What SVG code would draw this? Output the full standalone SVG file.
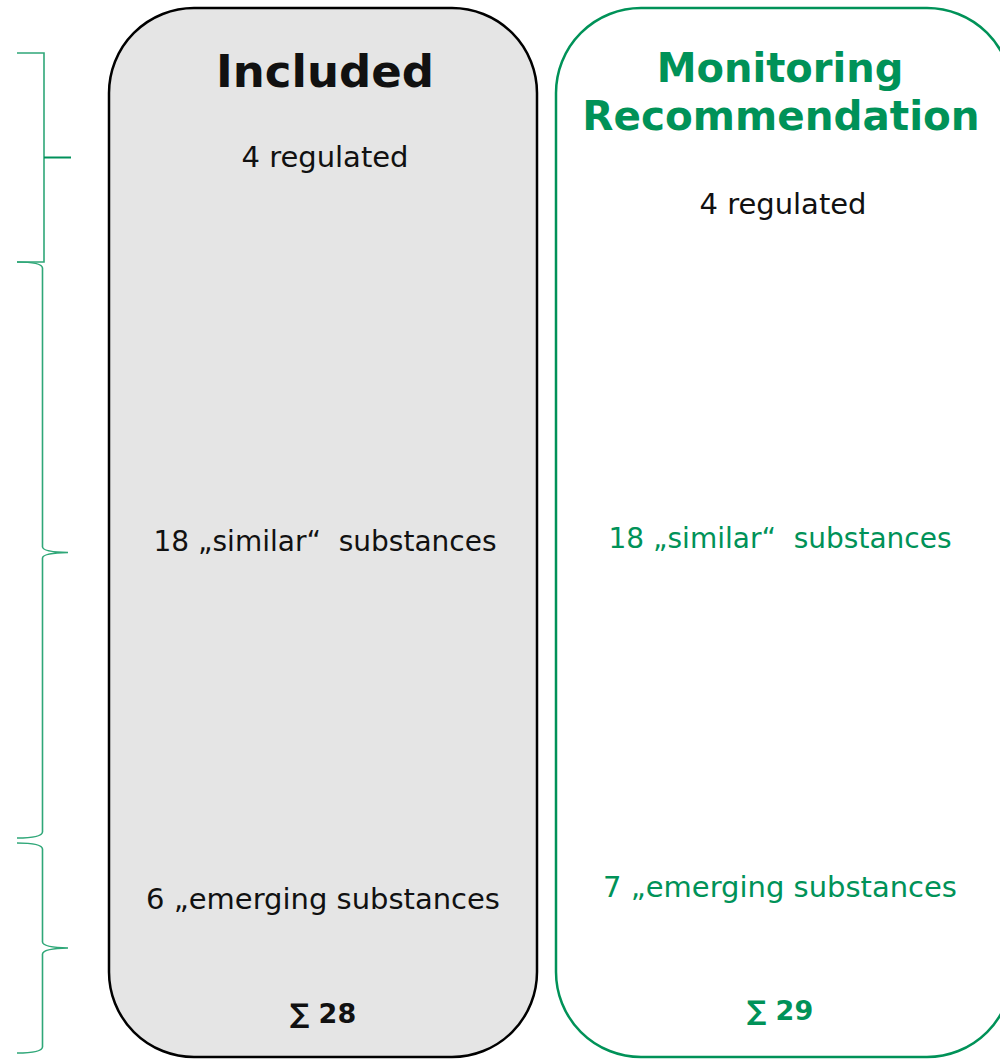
<svg xmlns="http://www.w3.org/2000/svg" width="1000" height="1059" viewBox="0 0 1000 1059">
<style>
.t{font-family:"DejaVu Sans","Noto Sans",sans-serif;text-anchor:middle;white-space:pre}
.b{font-weight:bold}
.k{fill:#111}
.g{fill:#009258}
.s{font-size:29px}
.m{font-size:28px}
.br{fill:none;stroke:#2fa778;stroke-width:1.6}
.tip{fill:none;stroke:#00905a;stroke-width:2}
</style>
<rect width="1000" height="1059" fill="#fff"/>
<g id="braces">
<path class="br" d="M17 53 H44 V262 H17"/>
<path class="tip" d="M44 157.5 H71"/>
<path class="br" d="M17 262 Q42 262 42.5 268 V547 Q43 552 68 552.5 Q43 553 42.5 558 V832 Q42 838 17 838"/>
<path class="br" d="M17 843 Q42 843 42.5 849 V942 Q43 947.5 68 948 Q43 948.5 42.5 954 V1047 Q42 1053 17 1053"/>
</g>
<g id="included">
<rect x="109" y="8" width="428" height="1049" rx="85" ry="85" fill="#e5e5e5" stroke="#000" stroke-width="2.5"/>
<text class="t b k" x="325" y="87" font-size="45">Included</text>
<text class="t k s" x="325" y="167">4 regulated</text>
<text class="t k m" x="325" y="551">18 „similar“  substances</text>
<text class="t k s" x="323" y="909">6 „emerging substances</text>
<text class="t b k" x="323" y="1023" font-size="27">∑ 28</text>
</g>
<g id="recommendation">
<rect x="556" y="8" width="456" height="1049" rx="85" ry="85" fill="#fff" stroke="#009258" stroke-width="2.5"/>
<text class="t b g" x="780" y="82" font-size="40">Monitoring</text>
<text class="t b g" x="781" y="130" font-size="40.5">Recommendation</text>
<text class="t k s" x="783" y="214">4 regulated</text>
<text class="t g m" x="780" y="548">18 „similar“  substances</text>
<text class="t g s" x="780" y="897">7 „emerging substances</text>
<text class="t b g" x="780" y="1020" font-size="27">∑ 29</text>
</g>
</svg>
